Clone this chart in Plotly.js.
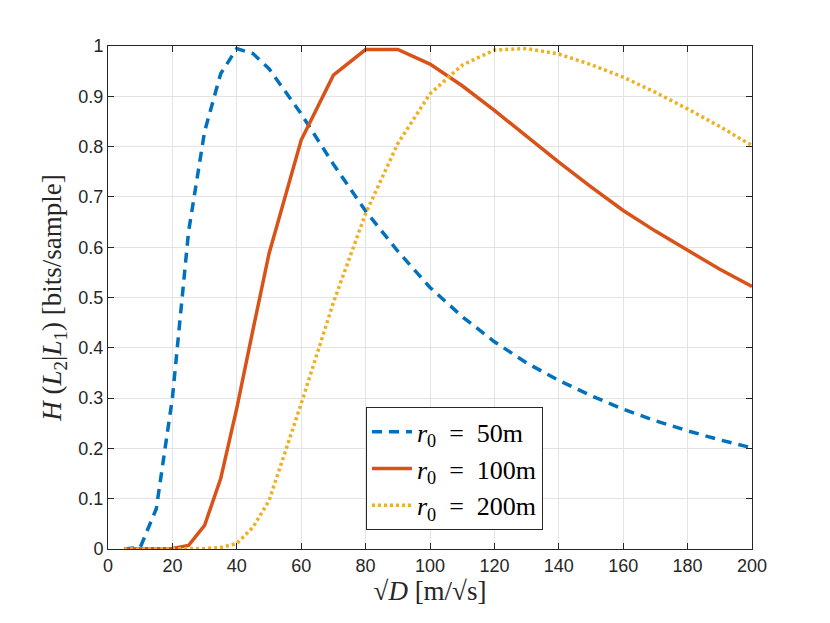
<!DOCTYPE html>
<html>
<head>
<meta charset="utf-8">
<script src="https://cdn.plot.ly/plotly-3.0.1.min.js"></script>
<style>html,body{margin:0;padding:0;background:#fff;}</style>
</head>
<body>
<div id="chart" style="width:830px;height:623px;"></div>
<script>
const xValues = [5,10,15,20,25,30,35,40,45,50,60,70,80,90,100,110,120,130,140,150,160,170,180,190,200];
const r50 = [0,0.003,0.08,0.30,0.63,0.83,0.945,0.995,0.985,0.955,0.865,0.765,0.672,0.592,0.52,0.462,0.412,0.37,0.335,0.305,0.278,0.255,0.235,0.217,0.201];
const r100 = [0,0,0,0.001,0.007,0.047,0.14,0.28,0.435,0.587,0.813,0.942,0.993,0.993,0.964,0.921,0.872,0.82,0.769,0.72,0.673,0.632,0.593,0.556,0.522];
const r200 = [0,0,0,0,0.0003,0.001,0.003,0.011,0.043,0.096,0.289,0.49,0.667,0.806,0.905,0.962,0.992,0.995,0.984,0.963,0.938,0.908,0.875,0.84,0.802];
const seriesNames = ['<i>r</i><sub>0</sub> &nbsp;=&nbsp; 50m','<i>r</i><sub>0</sub> &nbsp;=&nbsp; 100m','<i>r</i><sub>0</sub> &nbsp;=&nbsp; 200m'];
const xTicks = [0,20,40,60,80,100,120,140,160,180,200];
const yTicks = [0,0.1,0.2,0.3,0.4,0.5,0.6,0.7,0.8,0.9,1];
const yTickText = ['0','0.1','0.2','0.3','0.4','0.5','0.6','0.7','0.8','0.9','1'];

const traces = [
  {x:xValues, y:r50, name:seriesNames[0], mode:'lines', line:{color:'#0072BD', width:3.5, dash:'10px,7px'}},
  {x:xValues, y:r100, name:seriesNames[1], mode:'lines', line:{color:'#D95319', width:3.5}},
  {x:xValues, y:r200, name:seriesNames[2], mode:'lines', line:{color:'#EDB120', width:3.5, dash:'3px,3px'}}
];

const axisCommon = {
  showline:true, linecolor:'#262626', linewidth:1, mirror:'ticks',
  ticks:'inside', ticklen:6, tickcolor:'#262626', tickwidth:1,
  showgrid:true, gridcolor:'#e3e3e3', gridwidth:1, zeroline:false,
  tickfont:{family:'Liberation Sans, Arial, sans-serif', size:18, color:'#262626'}
};

const layout = {
  width:830, height:623,
  margin:{l:108, r:78, t:46, b:74},
  paper_bgcolor:'#fff', plot_bgcolor:'#fff',
  showlegend:true,
  xaxis: Object.assign({}, axisCommon, {
    range:[0,200], tickmode:'array', tickvals:xTicks,
    title:{text:'√<i>D</i> [m/√s]', font:{family:'Liberation Serif, DejaVu Serif, serif', size:27, color:'#262626'}, standoff:4}
  }),
  yaxis: Object.assign({}, axisCommon, {
    range:[0,1], tickmode:'array', tickvals:yTicks, ticktext:yTickText,
    title:{text:'<i>H</i> (<i>L</i><sub>2</sub>|<i>L</i><sub>1</sub>) [bits/sample]', font:{family:'Liberation Serif, DejaVu Serif, serif', size:27, color:'#262626'}, standoff:8}
  }),
  legend:{
    x:0.4006, y:0.2817, xanchor:'left', yanchor:'top',
    bgcolor:'#fff', bordercolor:'#262626', borderwidth:1,
    font:{family:'Liberation Serif, DejaVu Serif, serif', size:26, color:'#000'},
    tracegroupgap:0, itemwidth:40
  }
};

Plotly.newPlot('chart', traces, layout, {displayModeBar:false, staticPlot:true});
</script>
</body>
</html>
